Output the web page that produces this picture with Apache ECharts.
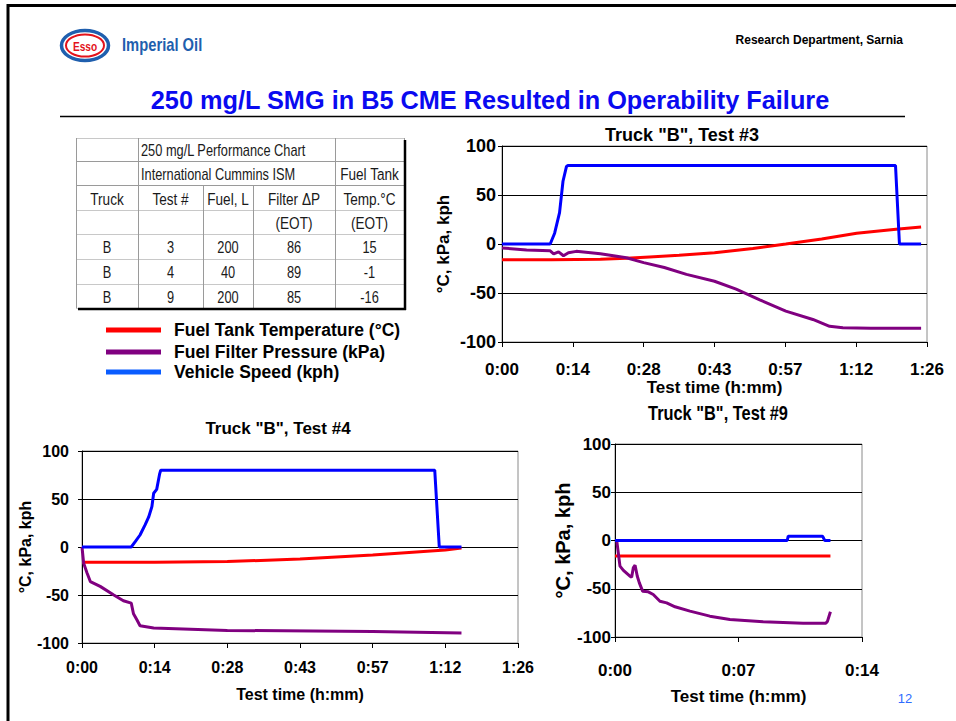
<!DOCTYPE html>
<html>
<head>
<meta charset="utf-8">
<script src="https://cdn.jsdelivr.net/npm/echarts@6/dist/echarts.min.js"></script>
<style>
html,body{margin:0;padding:0;background:#fff;}
#c{width:956px;height:721px;}
</style>
</head>
<body>
<div id="c"></div>
<script>
// ---------- DATA ----------
// Test #3 (minutes)
const t3Temp = [0, 10, 20, 25.3, 30, 36, 43.2, 51, 57.7, 65, 72.1, 80.1, 85.2];
const v3Temp = [-16, -16, -15.5, -14.5, -13.2, -11.5, -9, -4.5, 0, 5, 11, 15, 17.3];
const t3Press = [0, 5, 9.8, 10.5, 11.5, 12.5, 13.5, 15.1, 20, 25.3, 28.8, 33, 37.5, 43.2, 47.6, 52.4, 57.7, 63.2, 66.6, 69.3, 75, 85.2];
const v3Press = [-4, -6, -7, -10, -8, -12, -9, -7.5, -10, -14, -19, -24, -31, -38, -46, -57, -68.5, -77, -84, -85.5, -86, -86];
const t3Speed = [0, 9.8, 10.7, 11.7, 12.4, 13.1, 13.4, 80.0, 80.8, 85.2];
const v3Speed = [0, 0, 11, 32, 64, 79, 80, 80, 0, 0];
// Test #4
const t4Temp = [0, 14.4, 28.8, 43.2, 57.6, 72, 75.2];
const v4Temp = [-16, -15.8, -15.2, -12.5, -8.3, -3.1, -1];
const t4Press = [0, 0.33, 1, 1.65, 3.6, 6.3, 8.2, 9.76, 10.2, 10.9, 11.5, 14.2, 28.8, 57.6, 75.2];
const v4Press = [0, -17, -27, -36, -41, -50, -56, -58.5, -69.5, -76, -82, -84.4, -86.9, -88, -89.6];
const t4Speed = [0, 9.76, 10.55, 11.5, 12.5, 13.2, 13.85, 14.2, 14.8, 15.4, 15.6, 69.9, 70.8, 75.2];
const v4Speed = [0, 0, 5.5, 12.5, 23, 31, 42, 56, 60, 76.5, 80, 80, 0, 0];
// Test #9
const t9Temp = [0, 12.56];
const v9Temp = [-16, -16];
const t9Press = [0.1, 0.29, 0.49, 0.87, 0.97, 1.07, 1.17, 1.3, 1.42, 1.61, 1.94, 2.23, 2.62, 3.01, 3.5, 4.37, 5.53, 6.7, 8.64, 10.97, 12.29, 12.39, 12.56];
const v9Press = [0, -26.6, -31, -37, -38, -28, -25.6, -37, -43.9, -52.5, -53.2, -56, -62.9, -64.6, -68.7, -73.2, -78.4, -81.9, -84.3, -85.7, -85.7, -83.6, -73.9];
const t9Speed = [0, 10.04, 10.1, 12.1, 12.23, 12.56];
const v9Speed = [0, 0, 4.5, 4.5, 0, 0];
// tick labels
const xTicksLong = ['0:00', '0:14', '0:28', '0:43', '0:57', '1:12', '1:26'];
const xTicksShort = ['0:00', '0:07', '0:14'];
const yTicks = [-100, -50, 0, 50, 100];
// legend
const seriesNames = ['Fuel Tank Temperature (°C)', 'Fuel Filter Pressure (kPa)', 'Vehicle Speed (kph)'];
// table
const tableRows = [
  ['', '250 mg/L Performance Chart', '', '', ''],
  ['', 'International Cummins ISM', '', '', 'Fuel Tank'],
  ['Truck', 'Test #', 'Fuel, L', 'Filter ΔP', 'Temp.°C'],
  ['', '', '', '(EOT)', '(EOT)'],
  ['B', '3', '200', '86', '15'],
  ['B', '4', '40', '89', '-1'],
  ['B', '9', '200', '85', '-16']
];

// ---------- STYLE ----------
const COL_RED = '#ff0000', COL_PUR = '#800080', COL_BLUE = '#0000ff';
const ARIAL = "'Liberation Sans', Arial, sans-serif";
const zip = (t, v) => t.map((x, i) => [x, v[i]]);

function xAxisCfg(idx, max, interval, ticks, fs, nameFs, margin, gap) {
  return {
    type: 'value', gridIndex: idx, min: 0, max: max, interval: interval,
    name: 'Test time (h:mm)', nameLocation: 'middle', nameGap: gap,
    nameTextStyle: { fontFamily: ARIAL, fontWeight: 'bold', fontSize: nameFs, color: '#000' },
    axisLine: { show: true, onZero: false, lineStyle: { color: '#000', width: 1 } },
    axisTick: { show: true, inside: false, length: 5, lineStyle: { color: '#000' } },
    splitLine: { show: false },
    axisLabel: {
      margin: margin, fontFamily: ARIAL, fontWeight: 'bold', fontSize: fs, color: '#000',
      showMaxLabel: true, showMinLabel: true,
      formatter: v => ticks[Math.round(v / interval)]
    }
  };
}
function yAxisCfg(idx, fs, margin, nameFs, gap) {
  return {
    type: 'value', gridIndex: idx, min: yTicks[0], max: yTicks[yTicks.length - 1], interval: 50,
    name: '°C, kPa, kph', nameLocation: 'middle', nameGap: gap, nameRotate: 90,
    nameTextStyle: { fontFamily: ARIAL, fontWeight: 'bold', fontSize: nameFs, color: '#000' },
    axisLine: { show: true, lineStyle: { color: '#000', width: 1 } },
    axisTick: { show: true, inside: false, length: 4, lineStyle: { color: '#000' } },
    splitLine: { show: true, lineStyle: { color: '#000', width: 1 } },
    axisLabel: { margin: margin, fontFamily: ARIAL, fontWeight: 'bold', fontSize: fs, color: '#000' }
  };
}
function lineSeries(idx, name, data, color) {
  return {
    type: 'line', name: name, xAxisIndex: idx, yAxisIndex: idx, data: data,
    showSymbol: false, symbol: 'none', animation: false,
    lineStyle: { color: color, width: 3 }, itemStyle: { color: color }
  };
}
// text helper with optional horizontal condensing
function txt(x, y, s, font, fill, align, sx) {
  return {
    type: 'text', x: x, y: y, scaleX: sx || 1, scaleY: 1,
    style: { x: 0, y: 0, text: s, fill: fill, font: font, textAlign: align || 'center', textVerticalAlign: 'middle' }
  };
}

// ---------- GRAPHICS (header, table, legend) ----------
const g = [];
g.push({ type: 'line', shape: { x1: 7, y1: 5.5, x2: 956, y2: 5.5 }, style: { stroke: '#000', lineWidth: 3 } });
g.push({ type: 'line', shape: { x1: 8, y1: 4, x2: 8, y2: 721 }, style: { stroke: '#000', lineWidth: 3 } });
// logo
g.push({ type: 'ellipse', shape: { cx: 85, cy: 45.5, rx: 23.5, ry: 15 }, style: { fill: '#fff', stroke: '#1f5fae', lineWidth: 3.5 } });
g.push({ type: 'ellipse', shape: { cx: 85, cy: 45.5, rx: 19, ry: 11 }, style: { fill: '#fff', stroke: '#e3131b', lineWidth: 2 } });
g.push(txt(85, 46, 'Esso', "bold 13px " + ARIAL, '#e3131b', 'center', 0.78));
g.push(txt(122, 44, 'Imperial Oil', "bold 18px " + ARIAL, '#1f5fae', 'left', 0.82));
g.push(txt(903, 40, 'Research Department, Sarnia', "bold 12px " + ARIAL, '#000', 'right'));
// title
g.push(txt(490, 100, '250 mg/L SMG in B5 CME Resulted in Operability Failure', "bold 25.3px " + ARIAL, '#0a0af0'));
g.push({ type: 'line', shape: { x1: 60, y1: 116.5, x2: 905, y2: 116.5 }, style: { stroke: '#000', lineWidth: 1.5 } });
// chart titles
g.push(txt(682, 135, 'Truck "B", Test #3', "bold 18px " + ARIAL, '#000'));
g.push(txt(278, 428, 'Truck "B", Test #4', "bold 17px " + ARIAL, '#000'));
g.push(txt(718, 413, 'Truck "B", Test #9', "bold 20px " + ARIAL, '#000', 'center', 0.82));
// page number
g.push(txt(905, 698, '12', "13px " + ARIAL, '#2f6bff'));
// table
const colX = [76, 138, 203, 253, 335, 404];
const rowY = [138, 161, 185, 210, 234, 259, 284, 308];
rowY.forEach((y, i) => {
  g.push({ type: 'line', shape: { x1: colX[0], y1: y + 0.5, x2: colX[5], y2: y + 0.5 }, style: { stroke: (i === 1 || i === 2) ? '#9a9a9a' : '#c8c8c8', lineWidth: 1 } });
});
colX.forEach((x, i) => {
  const y1 = (i === 2 || i === 3) ? rowY[2] : rowY[0];
  g.push({ type: 'line', shape: { x1: x + 0.5, y1: y1, x2: x + 0.5, y2: rowY[7] }, style: { stroke: '#9a9a9a', lineWidth: 1 } });
});
g.push({ type: 'line', shape: { x1: colX[5] + 1, y1: rowY[0] + 2, x2: colX[5] + 1, y2: rowY[7] + 2 }, style: { stroke: '#000', lineWidth: 2.5 } });
g.push({ type: 'line', shape: { x1: colX[0] + 2, y1: rowY[7] + 1, x2: colX[5] + 2, y2: rowY[7] + 1 }, style: { stroke: '#000', lineWidth: 2.5 } });
tableRows.forEach((row, r) => {
  const cy = (rowY[r] + rowY[r + 1]) / 2 + 1;
  row.forEach((s, c) => {
    if (!s) return;
    let cx = (colX[c] + colX[c + 1]) / 2, align = 'center';
    if (r < 2 && c === 1) { cx = colX[1] + 3; align = 'left'; }
    const fs = r === 2 || r === 3 || (r === 1 && c === 4) ? 17 : 16;
    g.push(txt(cx, cy, s, fs + "px " + ARIAL, '#1a1a1a', align, 0.8));
  });
});
// legend
const legCols = [COL_RED, COL_PUR, '#0a5cff'];
const legY = [330, 352, 372];
seriesNames.forEach((n, i) => {
  g.push({ type: 'rect', shape: { x: 106, y: legY[i] - 2.5, width: 55, height: 5 }, style: { fill: legCols[i] } });
  g.push(txt(174, legY[i], n, "bold 17.5px " + ARIAL, '#000', 'left'));
});

// ---------- CHART ----------
const chart = echarts.init(document.getElementById('c'), null, { renderer: 'svg', width: 956, height: 721 });
chart.setOption({
  animation: false,
  backgroundColor: '#fff',
  grid: [
    { left: 502, top: 146, width: 425, height: 196, show: true, borderColor: '#8a8a8a', borderWidth: 1, backgroundColor: 'transparent' },
    { left: 82, top: 451, width: 436, height: 192, show: true, borderColor: '#8a8a8a', borderWidth: 1, backgroundColor: 'transparent' },
    { left: 615, top: 444, width: 247, height: 193, show: true, borderColor: '#8a8a8a', borderWidth: 1, backgroundColor: 'transparent' }
  ],
  xAxis: [
    xAxisCfg(0, 86.4, 14.4, xTicksLong, 17, 17, 19, 37),
    xAxisCfg(1, 86.4, 14.4, xTicksLong, 16, 16, 16, 43),
    xAxisCfg(2, 14.4, 7.2, xTicksShort, 17, 17, 25, 51)
  ],
  yAxis: [
    yAxisCfg(0, 18, 6, 17, 50),
    yAxisCfg(1, 16, 13, 16, 39),
    yAxisCfg(2, 17, 4, 20, 32)
  ],
  series: [
    lineSeries(0, seriesNames[0], zip(t3Temp, v3Temp), COL_RED),
    lineSeries(0, seriesNames[1], zip(t3Press, v3Press), COL_PUR),
    lineSeries(0, seriesNames[2], zip(t3Speed, v3Speed), COL_BLUE),
    lineSeries(1, seriesNames[0], zip(t4Temp, v4Temp), COL_RED),
    lineSeries(1, seriesNames[1], zip(t4Press, v4Press), COL_PUR),
    lineSeries(1, seriesNames[2], zip(t4Speed, v4Speed), COL_BLUE),
    lineSeries(2, seriesNames[0], zip(t9Temp, v9Temp), COL_RED),
    lineSeries(2, seriesNames[1], zip(t9Press, v9Press), COL_PUR),
    lineSeries(2, seriesNames[2], zip(t9Speed, v9Speed), COL_BLUE)
  ],
  graphic: g
});
</script>
</body>
</html>
